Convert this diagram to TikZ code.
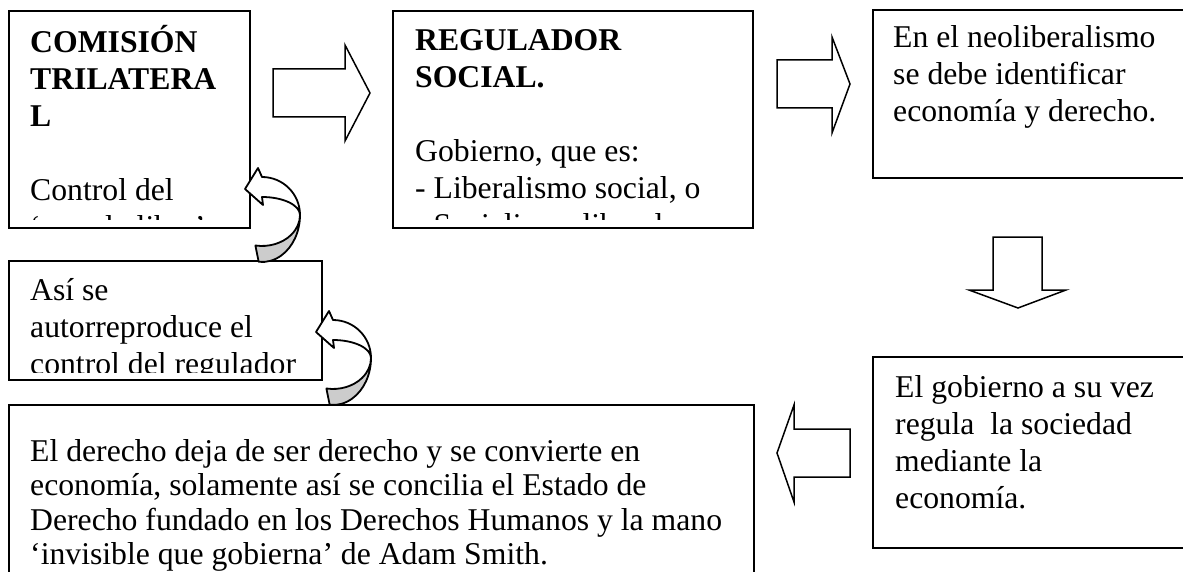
\documentclass[tikz,border=0pt]{standalone}
\usepackage{fontspec}
\setmainfont{Liberation Serif}
\usepackage{tikz}
\usetikzlibrary{fit}

\newcommand{\alto}{\rule{0pt}{30pt}}

\tikzset{
    caja/.style={draw, line width=2pt, inner sep=0pt},
    texto/.style={anchor=north west, inner sep=0pt, align=left, font=\fontsize{31.7}{37}\selectfont},
    bloque/.style={draw, line width=1.5pt, fill=white, line join=miter},
    curva/.style={draw, line width=1.8pt, line join=round},
    flechacurva/.pic={
        \draw[curva, fill=gray!40] (55,26) arc[start angle=0, end angle=95, x radius=38, y radius=47]
            -- (10.4,56.5) arc[start angle=100, end angle=0, x radius=38, y radius=31] -- cycle;
        \draw[curva, fill=white] (0,0) -- (13,-21) -- (17,-12)
            arc[start angle=-90, end angle=0, x radius=38, y radius=38]
            arc[start angle=0, end angle=-90, x radius=38, y radius=18] -- (18,16) -- cycle;
    }
}

\begin{document}
\begin{tikzpicture}[x=1pt, y=-1pt]
    \useasboundingbox (0,0) rectangle (1183,572);

    % Boxes
    \node[caja, fit={(9,11) (250,228)}] (comision) {};
    \node[caja, fit={(393,11) (753,228)}] (regulador) {};
    \node[caja, fit={(873,10) (1200,178)}] (neolib) {};
    \node[caja, fit={(873,357) (1200,548)}] (gobierno) {};
    \node[caja, fit={(9,261) (322,380)}] (autorrep) {};
    \node[caja, fit={(9,405) (754,600)}] (derecho) {};

    % Texts, cut at the bottom of their box
    \begin{scope}
        \clip (comision.north west) rectangle ([yshift=9pt]comision.south east);
        \node[texto] (comisionT) at (30,22) {\alto\textbf{COMISIÓN}\\\textbf{TRILATERA}\\\textbf{L}\\[37pt]Control del\\‘mundo libre’};
    \end{scope}
    \begin{scope}
        \clip (regulador.north west) rectangle ([yshift=9pt]regulador.south east);
        \node[texto] (reguladorT) at (415,20) {\alto\textbf{REGULADOR}\\\textbf{SOCIAL.}\\[37pt]Gobierno, que es:\\- Liberalismo social, o\\- Socialismo liberal};
    \end{scope}
    \node[texto] (neolibT) at (893,17) {\alto En el neoliberalismo\\se debe identificar\\economía y derecho.};
    \node[texto] (gobiernoT) at (895,367) {\alto El gobierno a su vez\\regula~ la sociedad\\mediante la\\economía.};
    \begin{scope}
        \clip (autorrep.north west) rectangle ([yshift=9pt]autorrep.south east);
        \node[texto] (autorrepT) at (30,270) {\alto Así se\\autorreproduce el\\control del regulador};
    \end{scope}
    \node[texto, font=\fontsize{31.7}{34.5}\selectfont] (derechoT) at (30,431) {\alto El derecho deja de ser derecho y se convierte en\\economía, solamente así se concilia el Estado de\\Derecho fundado en los Derechos Humanos y la mano\\‘invisible que gobierna’ de Adam Smith.};

    % Block arrows
    \draw[bloque] (273,69) -- (345,69) -- (345,45) -- (370,93) -- (345,141) -- (345,117) -- (273,117) -- cycle;
    \draw[bloque] (777,60) -- (832,60) -- (832,37) -- (850,84) -- (832,133) -- (832,108) -- (777,108) -- cycle;
    \draw[bloque] (993,237) -- (1042,237) -- (1042,290) -- (1066,290) -- (1018,308) -- (969,290) -- (993,290) -- cycle;
    \draw[bloque] (850,429) -- (794,429) -- (794,405) -- (777,453) -- (794,502) -- (794,477) -- (850,477) -- cycle;

    % Curved arrows
    \pic at (245,189) {flechacurva};
    \pic at (316,332) {flechacurva};
\end{tikzpicture}
\end{document}
